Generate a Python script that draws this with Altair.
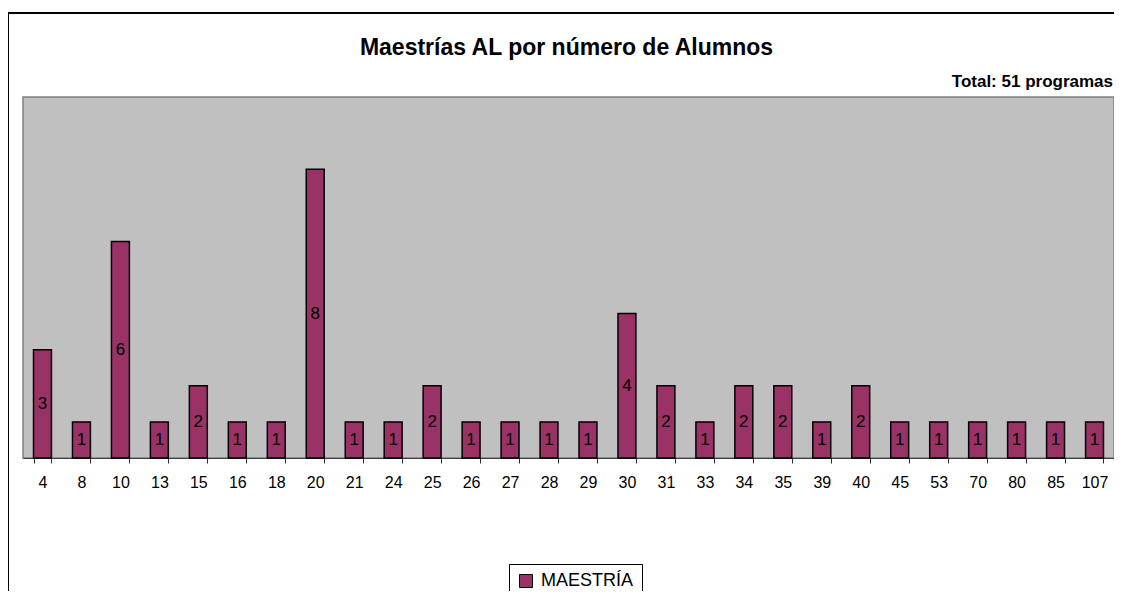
import altair as alt
import pandas as pd

categories = ["4", "8", "10", "13", "15", "16", "18", "20", "21", "24", "25", "26", "27", "28",
              "29", "30", "31", "33", "34", "35", "39", "40", "45", "53", "70", "80", "85", "107"]
counts = [3, 1, 6, 1, 2, 1, 1, 8, 1, 1, 2, 1, 1, 1, 1, 4, 2, 1, 2, 2, 1, 2, 1, 1, 1, 1, 1, 1]
series_name = "MAESTRÍA"
title_text = "Maestrías AL por número de Alumnos"
note_text = "Total: 51 programas"

df = pd.DataFrame({"alumnos": categories, "programas": counts, "serie": series_name})
df["mid"] = df["programas"] / 2

W, H = 1091, 361
FONT = "Liberation Sans"

xenc = alt.X("alumnos:N", sort=categories,
             scale=alt.Scale(paddingInner=0.54, paddingOuter=0.27),
             axis=alt.Axis(title=None, labelAngle=0, labelFontSize=16, labelFont=FONT,
                           labelColor="black", tickBand="extent", tickSize=5,
                           tickColor="#303030", domainColor="#404040", labelPadding=11,
                           grid=False))
yscale = alt.Scale(domain=[0, 10], nice=False)

base = alt.Chart(df)

bars = base.mark_bar(stroke="black", strokeWidth=1.5).encode(
    x=xenc,
    y=alt.Y("programas:Q", scale=yscale, axis=None),
    color=alt.Color("serie:N", scale=alt.Scale(range=["#993366"]),
                    legend=alt.Legend(title=None, orient="none", legendX=486, legendY=467,
                                      symbolType="square", symbolSize=169,
                                      symbolStrokeColor="black", symbolStrokeWidth=1,
                                      labelFontSize=18, labelFont=FONT, labelColor="black",
                                      labelOffset=6,
                                      strokeColor="black", fillColor="white",
                                      padding=8)),
)

labels = base.mark_text(fontSize=17, font=FONT, color="black").encode(
    x=alt.X("alumnos:N", sort=categories),
    y=alt.Y("mid:Q", scale=yscale),
    text="programas:Q",
)

note = alt.Chart(pd.DataFrame({"t": [note_text]})).mark_text(
    align="right", baseline="alphabetic", fontSize=17, fontWeight="bold", font=FONT, color="black"
).encode(x=alt.value(W - 1), y=alt.value(-10), text="t:N")

title = alt.Chart(pd.DataFrame({"t": [title_text]})).mark_text(
    align="center", baseline="alphabetic", fontSize=23, fontWeight="bold", font=FONT, color="black"
).encode(x=alt.value(W / 2 - 2), y=alt.value(-42), text="t:N")

border = alt.Chart(pd.DataFrame({"t": [0]})).mark_rect(
    fill=None, stroke="black", strokeWidth=2
).encode(x=alt.value(-15), x2=alt.value(W + 40), y=alt.value(-84), y2=alt.value(H + 300))

chart = alt.layer(border, bars, labels, note, title).properties(
    width=W, height=H,
    padding={"left": 15, "top": 89, "right": 0, "bottom": 133},
    autosize=alt.AutoSizeParams(type="none"),
).configure_view(
    fill="#C0C0C0", stroke="#808080", strokeWidth=1.5
)

chart.save("out.html", embed_options={"renderer": "svg", "actions": False})
